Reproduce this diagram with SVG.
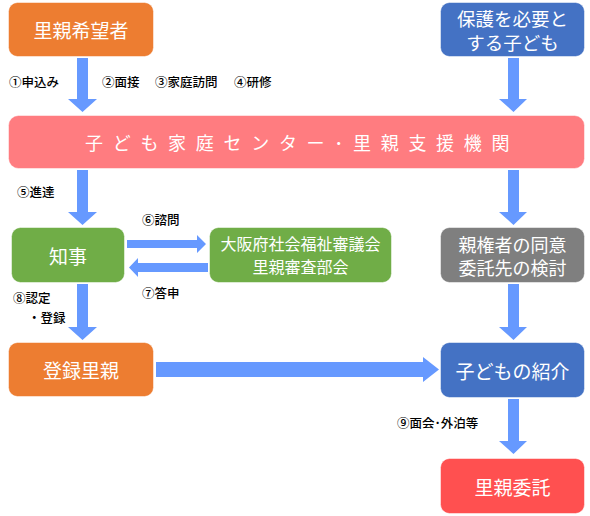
<svg xmlns="http://www.w3.org/2000/svg" width="590" height="516" viewBox="0 0 590 516">
<style>
.box{stroke:#ffffff;stroke-opacity:0.5;stroke-width:1}
.bt{font-family:"Noto Sans CJK JP","Noto Sans",sans-serif;fill:#ffffff;font-size:19px;text-anchor:middle;dominant-baseline:central}
.lb{font-family:"Noto Sans CJK JP","Noto Sans",sans-serif;fill:#000000;font-size:12.5px;font-weight:500}
.ar{fill:#6699FF}
</style>
<rect width="590" height="516" fill="#ffffff"/>
<g id="connectors">
<polygon class="ar" points="77,58 88,58 88,99 97,99 82.5,112 68,99 77,99"/>
<polygon class="ar" points="508,58 519,58 519,99 527,99 513.5,112 499,99 508,99"/>
<polygon class="ar" points="77,170 88,170 88,212 97,212 82.5,225 68,212 77,212"/>
<polygon class="ar" points="508,170 519,170 519,212 527,212 513.5,225 499,212 508,212"/>
<polygon class="ar" points="127,240 197,240 197,235 206,244 197,253 197,248 127,248"/>
<polygon class="ar" points="208,263 138,263 138,258 129,267.5 138,277 138,272 208,272"/>
<polygon class="ar" points="77,284 88,284 88,327 97,327 82.5,340 68,327 77,327"/>
<polygon class="ar" points="508,284 519,284 519,327 527,327 513.5,340 499,327 508,327"/>
<polygon class="ar" points="156,362 423,362 423,357 439,369.5 423,382 423,377 156,377"/>
<polygon class="ar" points="508,399 519,399 519,441 527,441 513.5,454 499,441 508,441"/>
</g>
<g id="n1"><rect class="box" x="8.5" y="2.5" width="145" height="54" rx="9" fill="#ED7D31"/><text class="bt" x="81" y="29.5">里親希望者</text></g>
<g id="n2"><rect class="box" x="440.5" y="2.5" width="144" height="54" rx="9" fill="#4472C4"/><text class="bt" x="512.5" y="17.5" style="font-size:18.5px">保護を必要と</text><text class="bt" x="512.5" y="42" style="font-size:18.5px">する子ども</text></g>
<g id="n3"><rect class="box" x="8.5" y="115.5" width="576" height="53" rx="10" fill="#FF7C80"/><text class="bt" x="85" y="142" style="letter-spacing:9.7px;font-size:18px;text-anchor:start">子ども家庭センター･里親支援機関</text></g>
<g id="n4"><rect class="box" x="11.5" y="227.5" width="113" height="55" rx="9" fill="#70AD47"/><text class="bt" x="68" y="255">知事</text></g>
<g id="n5"><rect class="box" x="209.5" y="227.5" width="182" height="55" rx="9" fill="#70AD47"/><text class="bt" x="300.5" y="243" style="font-size:16px">大阪府社会福祉審議会</text><text class="bt" x="300.5" y="266" style="font-size:16px">里親審査部会</text></g>
<g id="n6"><rect class="box" x="440.5" y="227.5" width="144" height="55" rx="9" fill="#7F7F7F"/><text class="bt" x="512.5" y="243.5" style="font-size:18px">親権者の同意</text><text class="bt" x="512.5" y="267" style="font-size:18px">委託先の検討</text></g>
<g id="n7"><rect class="box" x="8.5" y="342.5" width="145" height="54" rx="9" fill="#ED7D31"/><text class="bt" x="81" y="369.5">登録里親</text></g>
<g id="n8"><rect class="box" x="440.5" y="342.5" width="144" height="55" rx="9" fill="#4472C4"/><text class="bt" x="512.5" y="370">子どもの紹介</text></g>
<g id="n9"><rect class="box" x="440.5" y="458.5" width="144" height="55" rx="9" fill="#FF5050"/><text class="bt" x="512.5" y="486">里親委託</text></g>
<g id="labels">
<text class="lb" x="9" y="87">①申込み</text>
<text class="lb" x="102" y="87">②面接</text>
<text class="lb" x="155" y="87">③家庭訪問</text>
<text class="lb" x="234" y="87">④研修</text>
<text class="lb" x="17" y="197">⑤進達</text>
<text class="lb" x="142" y="225">⑥諮問</text>
<text class="lb" x="142" y="298">⑦答申</text>
<text class="lb" x="13" y="303">⑧認定</text>
<text class="lb" x="28" y="323">・登録</text>
<text class="lb" x="397" y="428">⑨面会･外泊等</text>
</g>
</svg>
